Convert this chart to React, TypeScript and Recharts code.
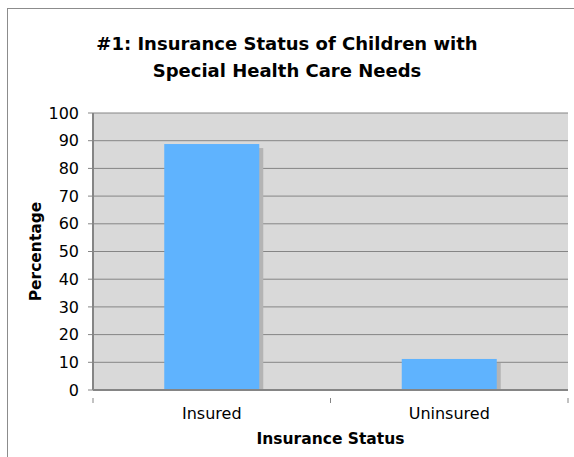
import { BarChart, Bar, XAxis, YAxis, CartesianGrid, Label } from "recharts";

const categories = ["Insured", "Uninsured"];
const percentages = [88.8, 11.2];
const yTicks = [0, 10, 20, 30, 40, 50, 60, 70, 80, 90, 100];

const data = categories.map((status, i) => ({ status, pct: percentages[i] }));

const FONT = "Verdana, 'DejaVu Sans', sans-serif";
const GRID = "#858585";

function ShadowBar(props: any) {
  const { x, y, width, height } = props;
  if (!height || height <= 0) return null;
  return (
    <g>
      <rect x={x + 4} y={y + 4} width={width} height={Math.max(height - 4, 0)} fill="#b4b4b4" />
      <rect x={x} y={y} width={width} height={height} fill="#5fb3fe" />
    </g>
  );
}

function CategoryTick(props: any) {
  const { x, y, payload, index } = props;
  const half = payload?.offset ?? 0;
  return (
    <g>
      {index === 0 && <line x1={x - half} y1={y} x2={x - half} y2={y + 5} stroke={GRID} />}
      <line x1={x + half} y1={y} x2={x + half} y2={y + 5} stroke={GRID} />
      <text x={x} y={y + 21} textAnchor="middle" fontSize={16} fill="#000" fontFamily={FONT}>
        {payload.value}
      </text>
    </g>
  );
}

export default function App() {
  return (
    <div style={{ position: "absolute", left: 0, top: 0, width: 574, height: 457, background: "#fff", overflow: "hidden" }}>
      <div
        style={{
          position: "absolute",
          left: 7,
          top: 8,
          width: 600,
          height: 480,
          border: "1px solid #8c8c8c",
        }}
      />
      <div
        style={{
          position: "absolute",
          left: 0,
          width: 574,
          top: 30,
          textAlign: "center",
          fontFamily: FONT,
          fontWeight: "bold",
          fontSize: 18,
          lineHeight: "27px",
          color: "#000",
        }}
      >
        #1: Insurance Status of Children with
        <br />
        Special Health Care Needs
      </div>
      <BarChart
        width={574}
        height={457}
        data={data}
        margin={{ top: 113, right: 6, bottom: 0, left: 0 }}
        barCategoryGap="30%"
        style={{ position: "absolute", left: 0, top: 0 }}
      >
        <CartesianGrid vertical={false} fill="#d9d9d9" stroke={GRID} fillOpacity={1} />
        <XAxis
          dataKey="status"
          height={67}
          tick={<CategoryTick />}
          tickLine={false}
          axisLine={{ stroke: GRID, strokeWidth: 2 }}
          interval={0}
        >
          <Label
            content={(p: any) => {
              const vb = p.viewBox;
              return (
                <text
                  x={vb.x + vb.width / 2}
                  y={vb.y + 54}
                  textAnchor="middle"
                  fontSize={15.5}
                  fontWeight="bold"
                  fontFamily={FONT}
                  fill="#000"
                >
                  Insurance Status
                </text>
              );
            }}
          />
        </XAxis>
        <YAxis
          width={93}
          domain={[0, 100]}
          ticks={yTicks}
          interval={0}
          tickSize={5}
          tickMargin={9}
          tick={{ fontSize: 16, fill: "#000", fontFamily: FONT }}
          tickLine={{ stroke: GRID }}
          axisLine={{ stroke: GRID, strokeWidth: 2 }}
        >
          <Label
            content={(p: any) => {
              const vb = p.viewBox;
              const cy = vb.y + vb.height / 2;
              return (
                <text
                  x={36}
                  y={cy}
                  transform={`rotate(-90, 36, ${cy})`}
                  textAnchor="middle"
                  dominantBaseline="central"
                  fontSize={15.5}
                  fontWeight="bold"
                  fontFamily={FONT}
                  fill="#000"
                >
                  Percentage
                </text>
              );
            }}
          />
        </YAxis>
        <YAxis
          yAxisId="right"
          orientation="right"
          width={0}
          domain={[0, 100]}
          tick={false}
          tickLine={false}
          axisLine={{ stroke: GRID, strokeWidth: 1 }}
        />
        <Bar dataKey="pct" shape={<ShadowBar />} isAnimationActive={false} />
      </BarChart>
    </div>
  );
}
